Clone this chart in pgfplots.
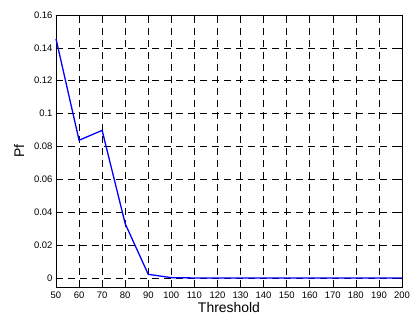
\documentclass[border=0pt]{standalone}
\usepackage{pgfplots}
\pgfplotsset{compat=1.18}
\usepackage{fontspec}
\setmainfont{Liberation Sans}
\begin{document}
\begin{tikzpicture}[x=1bp,y=1bp]
\begin{axis}[
  scale only axis,
  width=346bp, height=272bp,
  xmin=50, xmax=200,
  ymin=-0.0055, ymax=0.16,
  xtick={50,60,...,200},
  ytick={0,0.02,...,0.16},
  yticklabels={0,0.02,0.04,0.06,0.08,0.1,0.12,0.14,0.16},
  xticklabel style={font=\fontsize{9.5}{11}\selectfont, yshift=-1bp},
  yticklabel style={font=\fontsize{9.5}{11}\selectfont},
  /pgf/number format/assume math mode=true,
  tick align=inside,
  major tick length=5bp,
  xtick pos=both, ytick pos=both,
  grid=major,
  major grid style={black, dash pattern=on 7bp off 5bp, line width=0.6bp},
  axis line style={black, line width=0.8bp},
  every tick/.style={black, line width=0.6bp},
  xlabel={Threshold}, ylabel={Pf},
  label style={font=\fontsize{14}{16}\selectfont},
  xlabel style={yshift=3bp},
  ylabel style={yshift=3bp},
  clip=false,
]
\addplot[blue, line width=1.3bp] coordinates {
 (50,0.1455) (60,0.0838) (70,0.0898) (80,0.0330) (90,0.0022) (100,0.0002)
 (110,0) (120,0) (130,0) (140,0) (150,0) (160,0) (170,0) (180,0) (190,0) (200,0)
};
\coordinate (sw) at (rel axis cs:0,0);
\coordinate (ne) at (rel axis cs:1,1);
\end{axis}
\pgfresetboundingbox
\path ([xshift=-56bp,yshift=-33bp]sw) rectangle ([xshift=10bp,yshift=15bp]ne);
\end{tikzpicture}
\end{document}
